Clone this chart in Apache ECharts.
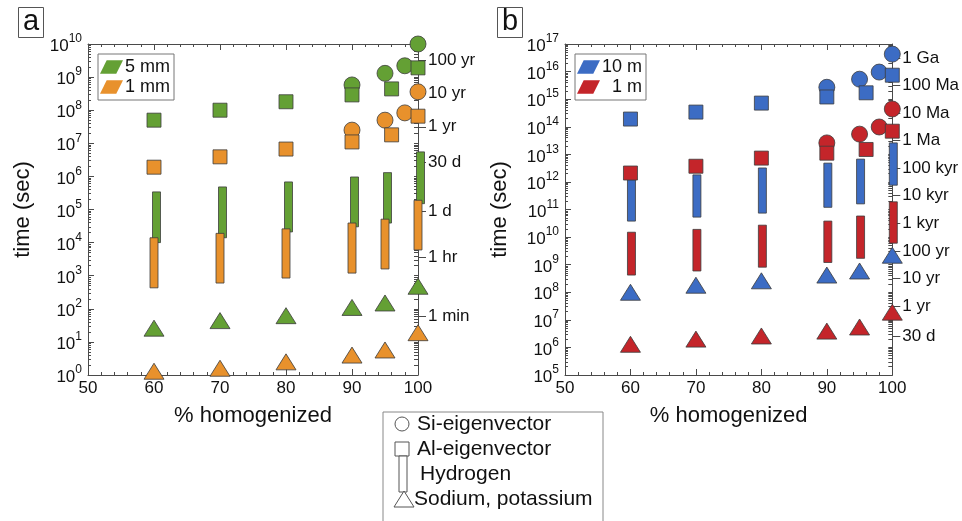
<!DOCTYPE html>
<html>
<head>
<meta charset="utf-8">
<script src="https://cdn.jsdelivr.net/npm/echarts@6/dist/echarts.min.js"></script>
<style>
  html, body { margin: 0; padding: 0; background: #fff; }
  #chart { width: 962px; height: 521px; }
</style>
</head>
<body>
<div id="chart"></div>
<script>
// ---- percent homogenized (x positions of each marker family) ----
const xHydrogen = [60, 70, 80, 90, 95, 100];
const xSodium   = [60, 70, 80, 90, 95, 100];
const xAl       = [60, 70, 80, 90, 96, 100];
const xSi       = [90, 95, 98, 100];

// ---- panel a: grain size 5 mm (seconds) ----
const si5mm  = [5.8e8, 1.3e9, 2.2e9, 1.0e10];
const al5mm  = [5.0e7, 1.0e8, 1.8e8, 2.9e8, 4.4e8, 1.9e9];
const hLo5mm = [1.0e4, 1.4e4, 2.1e4, 3.0e4, 3.9e4, 1.5e5];
const hHi5mm = [3.4e5, 4.8e5, 6.8e5, 9.6e5, 1.3e6, 5.5e6];
const na5mm  = [26, 44, 62, 110, 150, 480];

// ---- panel a: grain size 1 mm (seconds) ----
const si1mm  = [2.5e7, 5.0e7, 8.3e7, 3.6e8];
const al1mm  = [1.9e6, 3.9e6, 6.7e6, 1.1e7, 1.8e7, 6.6e7];
const hLo1mm = [430, 600, 850, 1200, 1600, 6000];
const hHi1mm = [1.4e4, 1.9e4, 2.6e4, 3.9e4, 5.1e4, 1.9e5];
const na1mm  = [1.3, 1.6, 2.5, 4.0, 5.7, 19];

// ---- panel b: grain size 10 m (seconds) ----
const si10m  = [2.7e15, 5.3e15, 9.6e15, 4.3e16];
const al10m  = [1.9e14, 3.4e14, 7.2e14, 1.2e15, 1.7e15, 7.4e15];
const hLo10m = [3.8e10, 5.3e10, 7.4e10, 1.2e11, 1.6e11, 7.6e11];
const hHi10m = [1.2e12, 1.8e12, 3.2e12, 4.8e12, 6.7e12, 2.6e13];
const na10m  = [1.0e8, 1.8e8, 2.6e8, 4.2e8, 5.9e8, 2.2e9];

// ---- panel b: grain size 1 m (seconds) ----
const si1m  = [2.6e13, 5.4e13, 9.8e13, 4.4e14];
const al1m  = [2.1e12, 3.7e12, 7.3e12, 1.1e13, 1.5e13, 6.9e13];
const hLo1m = [4.2e8, 5.9e8, 8.1e8, 1.2e9, 1.7e9, 6.0e9];
const hHi1m = [1.5e10, 1.9e10, 2.7e10, 3.8e10, 5.8e10, 1.9e11];
const na1m  = [1.3e6, 2.0e6, 2.6e6, 3.9e6, 5.5e6, 1.9e7];

// ---- right-hand time scales ----
const unitNamesA = ['100 yr', '10 yr', '1 yr', '30 d', '1 d', '1 hr', '1 min'];
const unitSecA   = [3.156e9, 3.156e8, 3.156e7, 2.592e6, 86400, 3600, 60];
const unitNamesB = ['1 Ga', '100 Ma', '10 Ma', '1 Ma', '100 kyr', '10 kyr', '1 kyr', '100 yr', '10 yr', '1 yr', '30 d'];
const unitSecB   = [3.156e16, 3.156e15, 3.156e14, 3.156e13, 3.156e12, 3.156e11, 3.156e10, 3.156e9, 3.156e8, 3.156e7, 2.592e6];

// ---- axis ranges (decades of seconds) ----
const decadesA = [0, 10];
const decadesB = [5, 17];
const pctRange = [50, 100];

const FONT = 'Liberation Sans, Arial, Helvetica, sans-serif';
const TXT = '#111';
const AXIS = '#4a4a4a';
const EDGE = '#3c3c3c';
const GREEN = '#64a034', ORANGE = '#e8912c', BLUE = '#3c6cc4', RED = '#c4252a';
const PARA = 'path://M7,0 L24,0 L17,14 L0,14 Z';

const log10 = Math.log10;

// log-spaced minor tick positions (2..9 within each decade), in decade units
function minorLogs(range) {
  const out = [];
  for (let n = range[0]; n < range[1]; n++) {
    for (let k = 2; k <= 9; k++) out.push(n + log10(k));
  }
  return out;
}
function allLogs(range) {
  const out = minorLogs(range);
  for (let n = range[0]; n <= range[1]; n++) out.push(n);
  return out;
}

function unitLabel(names, secs) {
  const logs = secs.map(log10);
  return function (v) {
    for (let i = 0; i < logs.length; i++) if (Math.abs(logs[i] - v) < 1e-6) return names[i];
    return '';
  };
}

const powRich = {
  b: { fontSize: 17, lineHeight: 22, verticalAlign: 'bottom', color: TXT, fontFamily: FONT },
  e: { fontSize: 12, lineHeight: 12, verticalAlign: 'top', color: TXT, fontFamily: FONT }
};

function xAxesFor(grid) {
  const common = {
    type: 'value', gridIndex: grid, min: pctRange[0], max: pctRange[1], interval: 10,
    axisLine: { show: true, onZero: false, lineStyle: { color: AXIS, width: 1 } },
    axisTick: { show: true, inside: true, length: 6, lineStyle: { color: AXIS } },
    minorTick: { show: true, splitNumber: 5, length: 3, lineStyle: { color: AXIS } },
    splitLine: { show: false }
  };
  return [
    Object.assign({}, common, {
      position: 'bottom',
      axisLabel: { fontSize: 17, color: TXT, fontFamily: FONT, margin: 5 },
      name: '% homogenized', nameLocation: 'middle', nameGap: 30,
      nameTextStyle: { fontSize: 22, color: TXT, fontFamily: FONT }
    }),
    Object.assign({}, common, { position: 'top', axisLabel: { show: false } })
  ];
}

// y axes of one panel: [log data axis, time-unit axis, decade labels, left minors, right ticks]
function yAxesFor(grid, range, names, secs) {
  const decadeAxis = {
    type: 'value', gridIndex: grid, min: range[0], max: range[1],
    axisLine: { show: false, onZero: false }, axisLabel: { show: false }, splitLine: { show: false }
  };
  return [
    {
      type: 'log', logBase: 10, gridIndex: grid, position: 'left',
      min: Math.pow(10, range[0]), max: Math.pow(10, range[1]),
      axisLine: { show: true, onZero: false, lineStyle: { color: AXIS, width: 1 } },
      axisTick: { show: false }, axisLabel: { show: false }, splitLine: { show: false },
      name: 'time (sec)', nameLocation: 'middle', nameGap: 54,
      nameTextStyle: { fontSize: 22, color: TXT, fontFamily: FONT }
    },
    {
      type: 'value', gridIndex: grid, position: 'right', min: range[0], max: range[1],
      axisLine: { show: true, onZero: false, lineStyle: { color: AXIS, width: 1 } },
      axisTick: { show: true, inside: false, length: 8, customValues: secs.map(log10), lineStyle: { color: AXIS } },
      axisLabel: {
        margin: 10, fontSize: 17, color: TXT, fontFamily: FONT,
        customValues: secs.map(log10), formatter: unitLabel(names, secs)
      },
      splitLine: { show: false }
    },
    Object.assign({}, decadeAxis, {
      position: 'left', interval: 1,
      axisTick: { show: true, inside: true, length: 6, lineStyle: { color: AXIS } },
      axisLabel: {
        show: true, margin: 6, color: TXT, fontFamily: FONT, rich: powRich,
        formatter: v => '{b|10}{e|' + Math.round(v) + '}'
      }
    }),
    Object.assign({}, decadeAxis, {
      position: 'left',
      axisTick: { show: true, inside: true, length: 3, customValues: minorLogs(range), lineStyle: { color: AXIS } }
    }),
    Object.assign({}, decadeAxis, {
      position: 'right',
      axisTick: { show: true, inside: true, length: 4, customValues: allLogs(range), lineStyle: { color: AXIS } }
    })
  ];
}

// Hydrogen ranges drawn as narrow boxes spanning low..high
function hydrogenSeries(name, color, xs, lo, hi, xi, yi, shift) {
  return {
    type: 'custom', name: name, xAxisIndex: xi, yAxisIndex: yi, clip: false,
    itemStyle: { color: color },
    encode: { x: 0, y: [1, 2] },
    data: xs.map((x, i) => [x, lo[i], hi[i]]),
    renderItem: function (params, api) {
      const top = api.coord([api.value(0), api.value(2)]);
      const bot = api.coord([api.value(0), api.value(1)]);
      return {
        type: 'rect',
        shape: { x: top[0] - 4 + shift, y: top[1], width: 8, height: bot[1] - top[1] },
        style: { fill: color, stroke: EDGE, lineWidth: 0.8 }
      };
    }
  };
}

function markerSeries(name, color, symbol, size, xs, ys, xi, yi) {
  return {
    type: 'scatter', name: name, xAxisIndex: xi, yAxisIndex: yi, clip: false,
    symbol: symbol, symbolSize: size,
    itemStyle: { color: color, borderColor: EDGE, borderWidth: 0.8, opacity: 1 },
    emphasis: { disabled: true },
    data: xs.map((x, i) => [x, ys[i]])
  };
}

function panelSeries(xi, yi, big, small) {
  return [
    hydrogenSeries(big.name, big.color, xHydrogen, big.hLo, big.hHi, xi, yi, big.shift),
    hydrogenSeries(small.name, small.color, xHydrogen, small.hLo, small.hHi, xi, yi, small.shift),
    markerSeries(big.name, big.color, 'circle', 16, xSi, big.si, xi, yi),
    markerSeries(small.name, small.color, 'circle', 16, xSi, small.si, xi, yi),
    markerSeries(big.name, big.color, 'rect', 14, xAl, big.al, xi, yi),
    markerSeries(small.name, small.color, 'rect', 14, xAl, small.al, xi, yi),
    markerSeries(big.name, big.color, 'triangle', [20, 16], xSodium, big.na, xi, yi),
    markerSeries(small.name, small.color, 'triangle', [20, 16], xSodium, small.na, xi, yi)
  ];
}

const series = [].concat(
  panelSeries(0, 0,
    { name: '5 mm', color: GREEN, si: si5mm, al: al5mm, hLo: hLo5mm, hHi: hHi5mm, na: na5mm, shift: 2.5 },
    { name: '1 mm', color: ORANGE, si: si1mm, al: al1mm, hLo: hLo1mm, hHi: hHi1mm, na: na1mm, shift: 0 }),
  panelSeries(2, 5,
    { name: '10 m', color: BLUE, si: si10m, al: al10m, hLo: hLo10m, hHi: hHi10m, na: na10m, shift: 1 },
    { name: '1 m', color: RED, si: si1m, al: al1m, hLo: hLo1m, hHi: hHi1m, na: na1m, shift: 1 })
);

function panelLegend(names, left, alignRight) {
  const lg = {
    data: names, left: left, top: 54, orient: 'vertical', icon: PARA,
    itemWidth: 23, itemHeight: 14, itemGap: 2, padding: [4, 4, 4, 2],
    borderColor: '#777', borderWidth: 1, selectedMode: false,
    itemStyle: { borderWidth: 0 },
    textStyle: { fontSize: 18, lineHeight: 17, color: TXT, fontFamily: FONT, padding: [0, 0, 0, -3] }
  };
  if (alignRight) {
    // right-justify the entries inside a fixed-width text box
    lg.formatter = name => '{r|' + name + '}';
    lg.textStyle.rich = { r: { width: 40, align: 'right', fontSize: 18, lineHeight: 17, color: TXT, fontFamily: FONT } };
  }
  return lg;
}

// Shape key below the panels
const keyX = 383, keyY = 412;
const keyText = (t, x, y) => ({
  type: 'text', x: x, y: y,
  style: { text: t, fontSize: 21, fontFamily: FONT, fill: TXT, verticalAlign: 'middle' }
});
const keyStyle = { fill: '#fff', stroke: '#555', lineWidth: 1 };

const graphic = [
  { type: 'rect', shape: { x: keyX, y: keyY, width: 220, height: 130 }, style: { fill: '#fff', stroke: '#888', lineWidth: 1 } },
  { type: 'circle', shape: { cx: 402, cy: 424, r: 7 }, style: keyStyle },
  keyText('Si-eigenvector', 417, 424),
  { type: 'rect', shape: { x: 395, y: 442, width: 14, height: 14 }, style: keyStyle },
  keyText('Al-eigenvector', 417, 449),
  { type: 'rect', shape: { x: 399, y: 456, width: 8, height: 36 }, style: keyStyle },
  keyText('Hydrogen', 420, 474),
  { type: 'polygon', shape: { points: [[404, 491], [394, 507], [414, 507]] }, style: keyStyle },
  keyText('Sodium, potassium', 414, 499)
];

const option = {
  animation: false,
  backgroundColor: '#fff',
  textStyle: { fontFamily: FONT },
  title: [
    { text: 'a', left: 18, top: 10, padding: [0, 5, 1, 5], borderColor: '#555', borderWidth: 1,
      textStyle: { fontSize: 29, fontWeight: 'normal', lineHeight: 24, color: TXT, fontFamily: FONT } },
    { text: 'b', left: 497, top: 10, padding: [0, 5, 1, 5], borderColor: '#555', borderWidth: 1,
      textStyle: { fontSize: 29, fontWeight: 'normal', lineHeight: 24, color: TXT, fontFamily: FONT } }
  ],
  legend: [
    panelLegend(['5 mm', '1 mm'], 98, false),
    panelLegend(['10 m', '1 m'], 575, true)
  ],
  grid: [
    { left: 88, top: 44, width: 330, height: 331, containLabel: false },
    { left: 565, top: 44, width: 330, height: 331, containLabel: false }
  ],
  xAxis: [].concat(xAxesFor(0), xAxesFor(1)),
  yAxis: [].concat(yAxesFor(0, decadesA, unitNamesA, unitSecA), yAxesFor(1, decadesB, unitNamesB, unitSecB)),
  graphic: graphic,
  series: series
};

const chart = echarts.init(document.getElementById('chart'), null, { renderer: 'canvas' });
chart.setOption(option);
</script>
</body>
</html>
